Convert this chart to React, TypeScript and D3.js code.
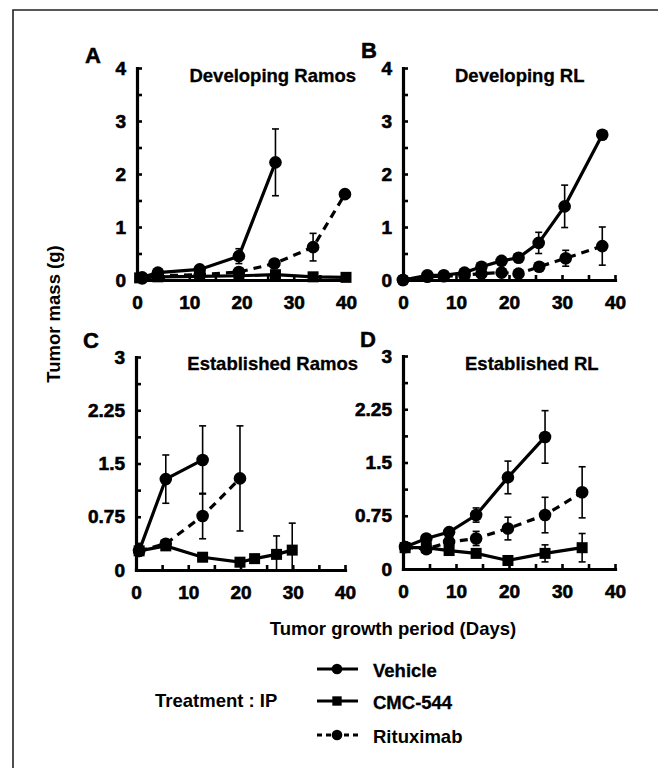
import React, { useEffect, useRef } from 'react';
import * as d3 from 'd3';

// A - Developing Ramos
const aVehDay = [1, 4, 12, 19.5, 26.5];
const aVehMass = [0.05, 0.14, 0.2, 0.45, 2.22];
const aVehErr = [0, 0.03, 0.04, 0.14, 0.63];
const aCmcDay = [0.5, 4, 12, 19.5, 26.5, 33.7, 40];
const aCmcMass = [0.04, 0.06, 0.07, 0.08, 0.1, 0.06, 0.05];
const aCmcErr = [0, 0, 0, 0, 0.02, 0.02, 0.02];
const aRitDay = [1, 4, 12, 19.5, 26.3, 33.7, 39.8];
const aRitMass = [0.03, 0.08, 0.1, 0.15, 0.31, 0.62, 1.62];
const aRitErr = [0, 0, 0, 0.03, 0.05, 0.26, 0];

// B - Developing RL
const bVehDay = [0, 4.6, 7.7, 11.6, 14.8, 18.6, 21.8, 25.6, 30.5, 37.6];
const bVehMass = [0, 0.09, 0.09, 0.14, 0.25, 0.36, 0.42, 0.7, 1.39, 2.74];
const bVehErr = [0, 0, 0, 0.02, 0.03, 0.04, 0.05, 0.2, 0.4, 0.03];
const bRitDay = [0, 4.6, 7.7, 11.6, 14.8, 18.6, 21.8, 25.7, 30.7, 37.6];
const bRitMass = [0, 0.06, 0.07, 0.09, 0.12, 0.14, 0.12, 0.25, 0.41, 0.64];
const bRitErr = [0, 0, 0, 0, 0, 0, 0, 0.03, 0.15, 0.36];

// C - Established Ramos
const cVehDay = [0.6, 5.7, 12.75];
const cVehMass = [0.27, 1.28, 1.55];
const cVehErr = [0.05, 0.34, 0.48];
const cCmcDay = [0.6, 5.7, 12.75, 19.9, 22.7, 26.9, 29.9];
const cCmcMass = [0.27, 0.34, 0.18, 0.11, 0.16, 0.22, 0.28];
const cCmcErr = [0.03, 0.05, 0.03, 0.03, 0.03, 0.26, 0.38];
const cRitDay = [0.6, 5.7, 12.75, 19.9];
const cRitMass = [0.27, 0.37, 0.76, 1.29];
const cRitErr = [0.03, 0.05, 0.32, 0.74];

// D - Established RL
const dVehDay = [0.4, 4.4, 8.7, 13.8, 19.8, 26.8];
const dVehMass = [0.31, 0.43, 0.52, 0.76, 1.29, 1.86];
const dVehErr = [0.03, 0.04, 0.04, 0.1, 0.23, 0.37];
const dCmcDay = [0.4, 4.4, 8.7, 13.8, 19.8, 26.8, 33.8];
const dCmcMass = [0.3, 0.3, 0.26, 0.22, 0.12, 0.22, 0.3];
const dCmcErr = [0.03, 0.03, 0.04, 0.04, 0.04, 0.12, 0.2];
const dRitDay = [0.4, 4.4, 8.7, 13.8, 19.8, 26.8, 33.8];
const dRitMass = [0.31, 0.28, 0.38, 0.43, 0.57, 0.76, 1.08];
const dRitErr = [0.03, 0.03, 0.05, 0.1, 0.16, 0.25, 0.36];

const xTickLabels = [0, 10, 20, 30, 40];
const yTicksDeveloping = [0, 1, 2, 3, 4];
const yTicksEstablished = [0, 0.75, 1.5, 2.25, 3];

const legendNames = ['Vehicle', 'CMC-544', 'Rituximab'];

type Series = { kind: string; day: number[]; mass: number[]; err: number[] };

const FONT = '"Liberation Sans", Arial, Helvetica, sans-serif';

const App = () => {
  const svgRef = useRef<SVGSVGElement>(null);

  useEffect(() => {
    const svg = d3.select(svgRef.current);
    svg.selectAll('*').remove();

    const panels = [
      {
        letter: 'A', title: 'Developing Ramos', left: 137, top: 68, bottom: 280, right: 346,
        letterPos: [85, 63], titlePos: [356, 82], titleAnchor: 'end', yTicks: yTicksDeveloping,
        series: [
          { kind: 'cmc', day: aCmcDay, mass: aCmcMass, err: aCmcErr },
          { kind: 'rit', day: aRitDay, mass: aRitMass, err: aRitErr },
          { kind: 'veh', day: aVehDay, mass: aVehMass, err: aVehErr },
        ] as Series[],
      },
      {
        letter: 'B', title: 'Developing RL', left: 403, top: 68, bottom: 280, right: 615,
        letterPos: [361, 58], titlePos: [455, 82], titleAnchor: 'start', yTicks: yTicksDeveloping,
        series: [
          { kind: 'rit', day: bRitDay, mass: bRitMass, err: bRitErr },
          { kind: 'veh', day: bVehDay, mass: bVehMass, err: bVehErr },
        ] as Series[],
      },
      {
        letter: 'C', title: 'Established Ramos', left: 136, top: 357, bottom: 570, right: 345,
        letterPos: [83, 348], titlePos: [358, 370], titleAnchor: 'end', yTicks: yTicksEstablished,
        series: [
          { kind: 'cmc', day: cCmcDay, mass: cCmcMass, err: cCmcErr },
          { kind: 'rit', day: cRitDay, mass: cRitMass, err: cRitErr },
          { kind: 'veh', day: cVehDay, mass: cVehMass, err: cVehErr },
        ] as Series[],
      },
      {
        letter: 'D', title: 'Established RL', left: 403, top: 356, bottom: 569, right: 615,
        letterPos: [360, 347], titlePos: [465, 370], titleAnchor: 'start', yTicks: yTicksEstablished,
        series: [
          { kind: 'cmc', day: dCmcDay, mass: dCmcMass, err: dCmcErr },
          { kind: 'rit', day: dRitDay, mass: dRitMass, err: dRitErr },
          { kind: 'veh', day: dVehDay, mass: dVehMass, err: dVehErr },
        ] as Series[],
      },
    ];

    // outer frame (only top and left edges visible)
    svg.append('path')
      .attr('d', 'M13,768 V10 H658')
      .attr('fill', 'none')
      .attr('stroke', '#222')
      .attr('stroke-width', 1.6);

    const drawMarker = (g: any, kind: string, cx: number, cy: number, scale = 1) => {
      if (kind === 'cmc') {
        const s = 11 * scale;
        g.append('rect')
          .attr('x', cx - s / 2).attr('y', cy - s / 2)
          .attr('width', s).attr('height', s)
          .attr('fill', '#000');
      } else {
        g.append('circle')
          .attr('cx', cx).attr('cy', cy).attr('r', 6.3 * scale)
          .attr('fill', '#000');
      }
    };

    panels.forEach(p => {
      const yMax = p.yTicks[p.yTicks.length - 1];
      const x = d3.scaleLinear().domain([0, 40]).range([p.left, p.right]);
      const y = d3.scaleLinear().domain([0, yMax]).range([p.bottom, p.top]);
      const g = svg.append('g');

      // x axis, ticks pointing inward
      const xAxis = d3.axisBottom(x)
        .tickValues(d3.range(0, 41, 5))
        .tickFormat((d: any) => (xTickLabels.includes(d) ? String(d) : ''))
        .tickSizeInner(-5)
        .tickSizeOuter(0)
        .tickPadding(16);
      const gx = g.append('g').attr('transform', `translate(0,${p.bottom})`).call(xAxis);

      const yStep = yMax / 8;
      const yAxis = d3.axisLeft(y)
        .tickValues(d3.range(0, 9).map(i => i * yStep))
        .tickFormat((d: any) => (p.yTicks.some(t => Math.abs(t - d) < 1e-6) ? String(d) : ''))
        .tickSizeInner(-5)
        .tickSizeOuter(0)
        .tickPadding(11);
      const gy = g.append('g').attr('transform', `translate(${p.left},0)`).call(yAxis);

      [gx, gy].forEach(a => {
        a.select('.domain').attr('stroke', '#000').attr('stroke-width', 3.2).attr('stroke-linecap', 'square');
        a.selectAll('.tick line').attr('stroke', '#000').attr('stroke-width', 2.6);
        a.selectAll('.tick text')
          .attr('fill', '#000')
          .attr('stroke', '#000')
          .attr('stroke-width', 0.6)
          .style('font-family', FONT)
          .style('font-weight', 'bold')
          .style('font-size', '19px');
      });

      // series
      p.series.forEach(s => {
        const pts = s.day.map((d, i) => ({ d, m: s.mass[i], e: s.err[i] }));
        const sg = g.append('g');
        pts.forEach(pt => {
          if (pt.e <= 0) return;
          const yt = y(pt.m + pt.e);
          const yb = y(Math.max(0, pt.m - pt.e));
          const cx = x(pt.d);
          sg.append('line').attr('x1', cx).attr('x2', cx).attr('y1', yt).attr('y2', yb)
            .attr('stroke', '#000').attr('stroke-width', 1.6);
          [yt, yb].forEach(yy => {
            sg.append('line').attr('x1', cx - 3.5).attr('x2', cx + 3.5).attr('y1', yy).attr('y2', yy)
              .attr('stroke', '#000').attr('stroke-width', 1.6);
          });
        });
        const line = d3.line<{ d: number; m: number }>()
          .x(v => x(v.d))
          .y(v => y(v.m));
        sg.append('path')
          .datum(pts)
          .attr('d', line)
          .attr('fill', 'none')
          .attr('stroke', '#000')
          .attr('stroke-width', 3.2)
          .attr('stroke-dasharray', s.kind === 'rit' ? '8,6' : null);
        pts.forEach(pt => drawMarker(sg, s.kind, x(pt.d), y(pt.m)));
      });

      g.append('text')
        .attr('x', p.letterPos[0]).attr('y', p.letterPos[1])
        .text(p.letter)
        .attr('stroke', '#000').attr('stroke-width', 0.5)
        .style('font-family', FONT).style('font-weight', 'bold').style('font-size', '22px');

      g.append('text')
        .attr('x', p.titlePos[0]).attr('y', p.titlePos[1])
        .attr('text-anchor', p.titleAnchor)
        .text(p.title)
        .attr('stroke', '#000').attr('stroke-width', 0.3)
        .style('font-family', FONT).style('font-weight', 'bold').style('font-size', '18.5px');
    });

    // axis titles
    svg.append('text')
      .attr('transform', 'translate(60,314) rotate(-90)')
      .attr('text-anchor', 'middle')
      .text('Tumor mass (g)')
      .style('font-family', FONT).style('font-weight', 'bold').style('font-size', '18.5px');

    svg.append('text')
      .attr('x', 393).attr('y', 635)
      .attr('text-anchor', 'middle')
      .text('Tumor growth period (Days)')
      .style('font-family', FONT).style('font-weight', 'bold').style('font-size', '18.5px');

    // legend
    const legend = svg.append('g');
    legend.append('text')
      .attr('x', 155).attr('y', 707)
      .text('Treatment : IP')
      .style('font-family', FONT).style('font-weight', 'bold').style('font-size', '18.5px');

    const kinds = ['veh', 'cmc', 'rit'];
    const rowY = [669, 701, 735];
    legendNames.forEach((name, i) => {
      const yy = rowY[i];
      legend.append('line')
        .attr('x1', 317).attr('x2', 358).attr('y1', yy).attr('y2', yy)
        .attr('stroke', '#000').attr('stroke-width', 3)
        .attr('stroke-dasharray', kinds[i] === 'rit' ? '5,4' : null);
      drawMarker(legend, kinds[i], 337, yy, 0.85);
      legend.append('text')
        .attr('x', 373).attr('y', yy + 8)
        .text(name)
        .attr('stroke', kinds[i] === 'rit' ? 'none' : '#000')
        .attr('stroke-width', 0.3)
        .style('font-family', FONT).style('font-weight', 'bold').style('font-size', '18.5px');
    });
  }, []);

  return (
    <svg
      ref={svgRef}
      width={658}
      height={768}
      style={{ position: 'absolute', left: 0, top: 0, background: '#fff' }}
    />
  );
};

export default App;
